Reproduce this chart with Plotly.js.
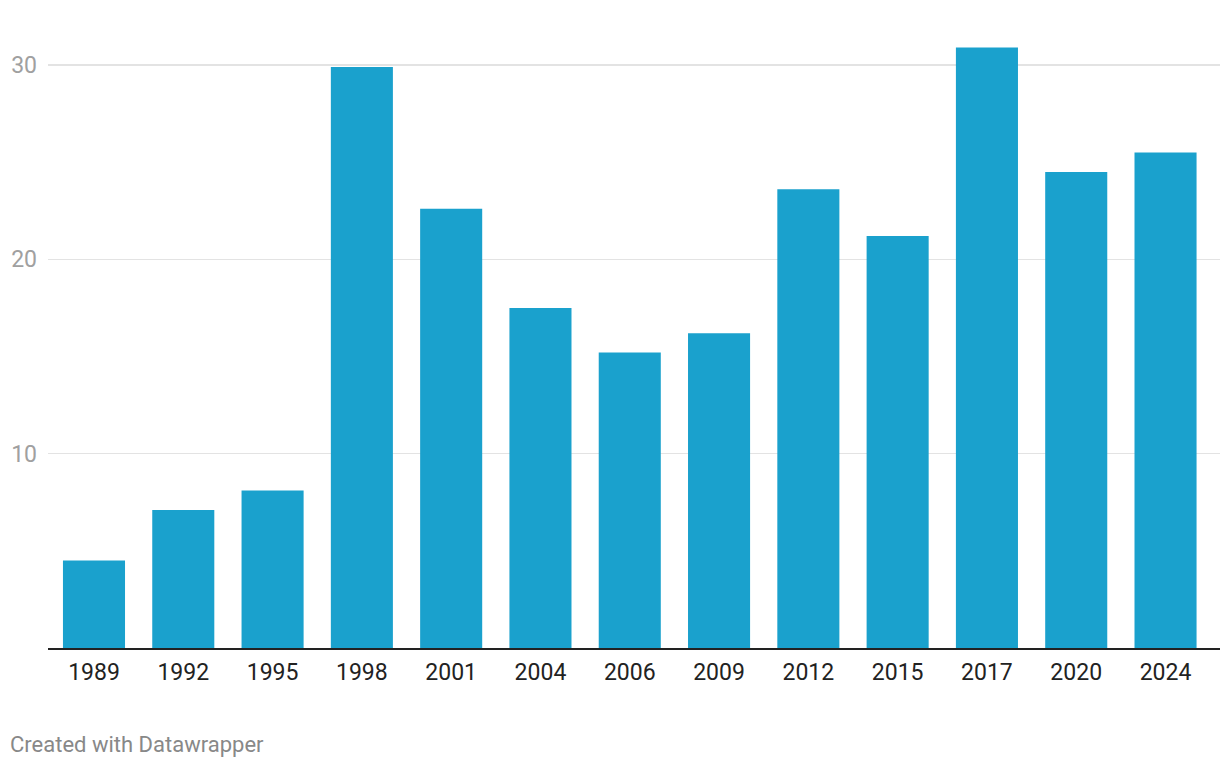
<!DOCTYPE html>
<html>
<head>
<meta charset="utf-8">
<script src="https://cdn.plot.ly/plotly-3.0.1.min.js"></script>
<style>
  html, body { margin: 0; padding: 0; background: #fff; }
  #chart { width: 1220px; height: 768px; }
</style>
</head>
<body>
<div id="chart"></div>
<script>
const years = ["1989","1992","1995","1998","2001","2004","2006","2009","2012","2015","2017","2020","2024"];
const values = [4.5, 7.1, 8.1, 29.9, 22.6, 17.5, 15.2, 16.2, 23.6, 21.2, 30.9, 24.5, 25.5];
const yTicks = [10, 20, 30];
const yTickLabels = ["10", "20", "30"];
const footerText = "Created with Datawrapper";

const trace = {
  type: "bar",
  x: years,
  y: values,
  marker: { color: "#1aa1cd" },
  hoverinfo: "x+y"
};

const layout = {
  width: 1220,
  height: 768,
  margin: { l: 48, r: 0, t: 10, b: 120 },
  paper_bgcolor: "#ffffff",
  plot_bgcolor: "#ffffff",
  bargap: 0.305,
  showlegend: false,
  font: { family: "Roboto, sans-serif" },
  xaxis: {
    type: "category",
    range: [-0.515, 12.61],
    showgrid: false,
    showline: true,
    linecolor: "#222222",
    linewidth: 2,
    ticks: "",
    tickfont: { size: 23, color: "#222222", family: "Roboto, sans-serif" },
    ticklabelstandoff: 2,
    fixedrange: true
  },
  yaxis: {
    range: [0, 32.83],
    tickvals: yTicks,
    ticktext: yTickLabels,
    showgrid: true,
    gridcolor: "#e3e3e3",
    gridwidth: 1.5,
    zeroline: false,
    showline: false,
    ticks: "",
    tickfont: { size: 23, color: "#a0a0a0", family: "Roboto, sans-serif" },
    ticklabelstandoff: 10,
    fixedrange: true
  },
  annotations: [{
    text: footerText,
    xref: "paper", yref: "paper",
    x: -40/1172, y: -0.152,
    xanchor: "left", yanchor: "middle",
    showarrow: false,
    font: { size: 22, color: "#888888", family: "Roboto, sans-serif" }
  }]
};

Plotly.newPlot("chart", [trace], layout, { displayModeBar: false, staticPlot: true });
</script>
</body>
</html>
